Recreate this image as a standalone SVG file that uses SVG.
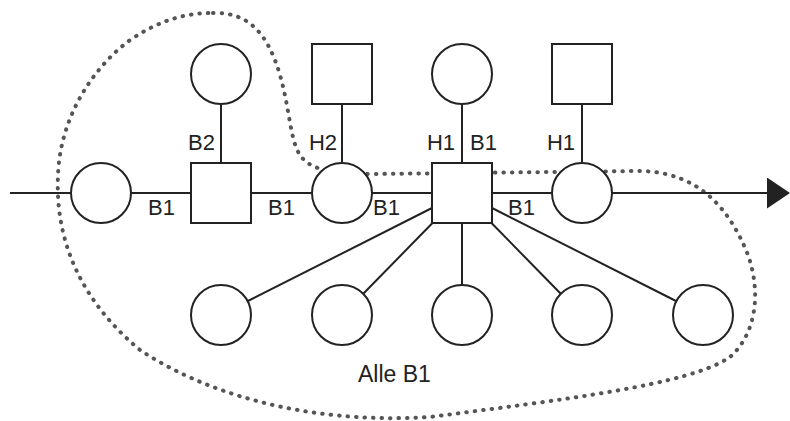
<svg xmlns="http://www.w3.org/2000/svg" width="790" height="421" viewBox="0 0 790 421">
<defs>
<style>
.n{fill:#fff;stroke:#222;stroke-width:2}
.e{stroke:#222;stroke-width:2;fill:none}
.t{font-family:"Liberation Sans",Arial,sans-serif;font-size:22px;fill:#222}
.d{fill:none;stroke:#555;stroke-width:4;stroke-linecap:round;stroke-dasharray:0.5 8}
</style>
<marker id="arr" viewBox="0 0 23 31" refX="0" refY="15.5" markerWidth="23" markerHeight="31" markerUnits="userSpaceOnUse" orient="auto">
<path d="M0 0 L23 15.5 L0 31 Z" fill="#222"/>
</marker>
</defs>
<rect width="790" height="421" fill="#fff"/>
<g id="region">
<path class="d" d="M213 13 C250 12,268 35,280 75 C290 110,290 140,300 155 C310 170,330 173,372 174 L640 171 C700 172,730 210,748 255 C762 295,755 335,730 357 C690 385,560 400,430 417 C300 425,200 390,140 350 C80 300,55 240,58 175 C60 120,90 70,130 40 C160 20,185 13,213 13 Z"/>
<text class="t" x="358" y="382" style="font-size:23px">Alle B1</text>
</g>
<g id="connectors">
<line class="e" x1="10" y1="193" x2="71" y2="193"/>
<line class="e" x1="131" y1="193" x2="191" y2="193"/>
<line class="e" x1="251" y1="193" x2="312" y2="193"/>
<line class="e" x1="372" y1="193" x2="432" y2="193"/>
<line class="e" x1="492" y1="193" x2="552" y2="193"/>
<line class="e" x1="612" y1="193" x2="767" y2="193" marker-end="url(#arr)"/>
<line class="e" x1="221" y1="104" x2="221" y2="163"/>
<line class="e" x1="342" y1="104" x2="342" y2="163"/>
<line class="e" x1="462" y1="104" x2="462" y2="163"/>
<line class="e" x1="582" y1="104" x2="582" y2="163"/>
<line class="e" x1="432" y1="208" x2="248" y2="301"/>
<line class="e" x1="432.5" y1="223" x2="363" y2="294"/>
<line class="e" x1="462" y1="223" x2="462" y2="285"/>
<line class="e" x1="491.5" y1="223" x2="561" y2="294"/>
<line class="e" x1="492" y1="208" x2="676" y2="301"/>
<text class="t" x="215" y="150" text-anchor="end">B2</text>
<text class="t" x="337" y="150" text-anchor="end">H2</text>
<text class="t" x="455" y="150" text-anchor="end">H1</text>
<text class="t" x="470" y="150">B1</text>
<text class="t" x="575" y="150" text-anchor="end">H1</text>
<text class="t" x="148" y="215">B1</text>
<text class="t" x="268" y="215">B1</text>
<text class="t" x="373" y="215">B1</text>
<text class="t" x="508" y="215">B1</text>
</g>
<g id="n1"><circle class="n" cx="101" cy="193" r="30"/></g>
<g id="n2"><rect class="n" x="191" y="163" width="60" height="60"/></g>
<g id="n3"><circle class="n" cx="342" cy="193" r="30"/></g>
<g id="n4"><rect class="n" x="432" y="163" width="60" height="60"/></g>
<g id="n5"><circle class="n" cx="582" cy="193" r="30"/></g>
<g id="t1"><circle class="n" cx="221" cy="74" r="30"/></g>
<g id="t2"><rect class="n" x="312" y="44" width="60" height="60"/></g>
<g id="t3"><circle class="n" cx="462" cy="74" r="30"/></g>
<g id="t4"><rect class="n" x="552" y="44" width="60" height="60"/></g>
<g id="b1"><circle class="n" cx="221" cy="315" r="30"/></g>
<g id="b2"><circle class="n" cx="342" cy="315" r="30"/></g>
<g id="b3"><circle class="n" cx="462" cy="315" r="30"/></g>
<g id="b4"><circle class="n" cx="582" cy="315" r="30"/></g>
<g id="b5"><circle class="n" cx="703" cy="315" r="30"/></g>
</svg>
